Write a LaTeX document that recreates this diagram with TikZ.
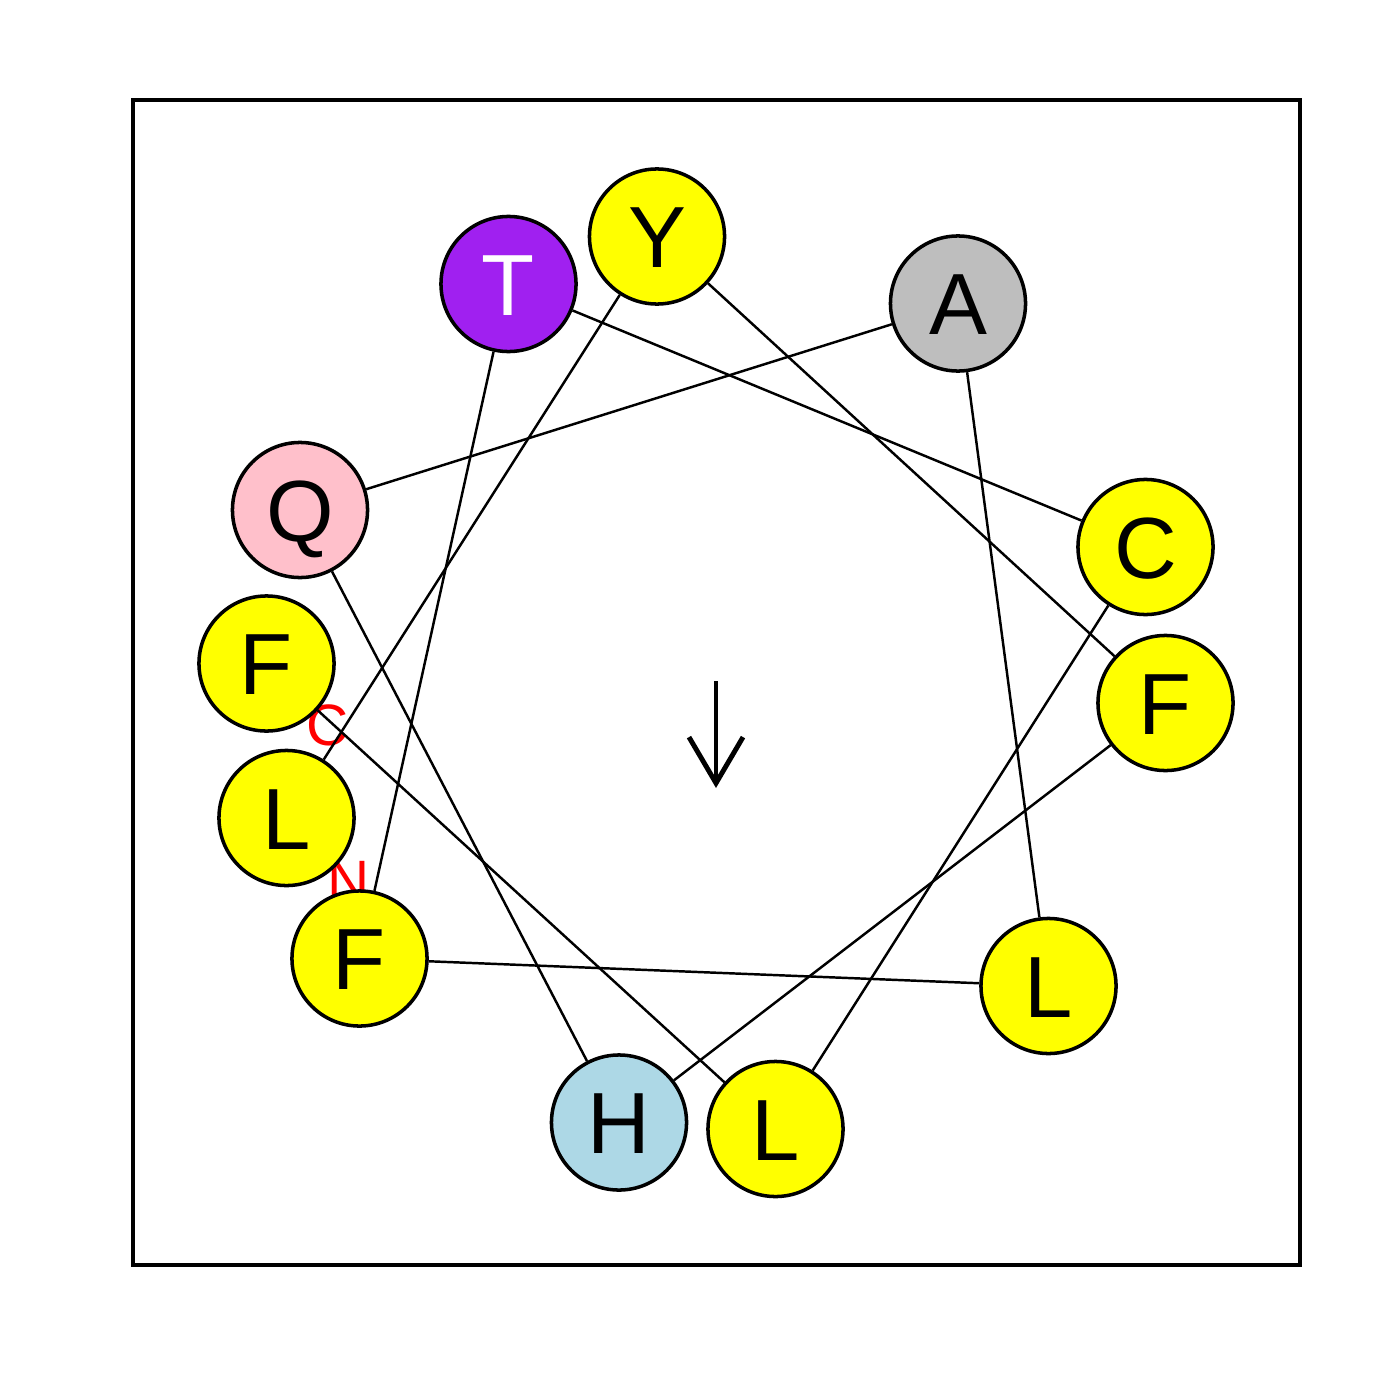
\documentclass[tikz,border=0pt]{standalone}
\usepackage{fontspec}
\setmainfont{Liberation Sans}
\usepackage{tikz}
\usetikzlibrary{arrows.meta}

\definecolor{hyd}{RGB}{255,255,0}
\definecolor{pol}{RGB}{160,32,240}
\definecolor{sml}{RGB}{190,190,190}
\definecolor{amd}{RGB}{255,192,203}
\definecolor{bas}{RGB}{173,216,230}

\begin{document}
\begin{tikzpicture}[x=0.01cm, y=-0.01cm, res/.style={circle, draw=black, line width=1pt, minimum size=1.35cm, inner sep=0pt, text height=17.7pt, text depth=0pt, font=\fontsize{24.7}{26}\selectfont}, resh/.style={res, fill=hyd}, bond/.style={line width=0.7pt, draw=black}, term/.style={text=red, inner sep=0pt, font=\fontsize{16.6}{18}\selectfont}, moment/.style={-{Straight Barb[length=4.6mm, width=5.4mm]}, line width=1.4pt}, frame/.style={line width=1.15pt}
]
  \useasboundingbox (0,0) rectangle (1400,1400);
  \draw[frame] (133,100) rectangle (1300,1265);
  % terminus labels sit under the residues
  \node[term] (nterm) at (349,881) {N};
  \node[term] (cterm) at (328,725) {C};
  \node[resh] (f1) at (266.5,663.5) {F};
  \node[resh] (l2) at (775.5,1129) {L};
  \node[resh] (c3) at (1145.5,547) {C};
  \node[res, fill=pol, text=white] (t4) at (508.5,284) {T};
  \node[resh] (f5) at (359.5,958.5) {F};
  \node[resh] (l6) at (1048.5,986) {L};
  \node[res, fill=sml] (a7) at (958,303.5) {A};
  \node[res, fill=amd] (q8) at (300,510) {Q};
  \node[res, fill=bas] (h9) at (619,1122.5) {H};
  \node[resh] (f10) at (1165.5,703) {F};
  \node[resh] (y11) at (657,236.5) {Y};
  \node[resh] (l12) at (286.5,818) {L};
  \draw[bond] (f1) -- (l2);
  \draw[bond] (l2) -- (c3);
  \draw[bond] (c3) -- (t4);
  \draw[bond] (t4) -- (f5);
  \draw[bond] (f5) -- (l6);
  \draw[bond] (l6) -- (a7);
  \draw[bond] (a7) -- (q8);
  \draw[bond] (q8) -- (h9);
  \draw[bond] (h9) -- (f10);
  \draw[bond] (f10) -- (y11);
  \draw[bond] (y11) -- (l12);
  % hydrophobic moment
  \coordinate (mtail) at (716,681);
  \coordinate (mhead) at (716,788);
  \draw[moment] (mtail) -- (mhead);
\end{tikzpicture}
\end{document}
